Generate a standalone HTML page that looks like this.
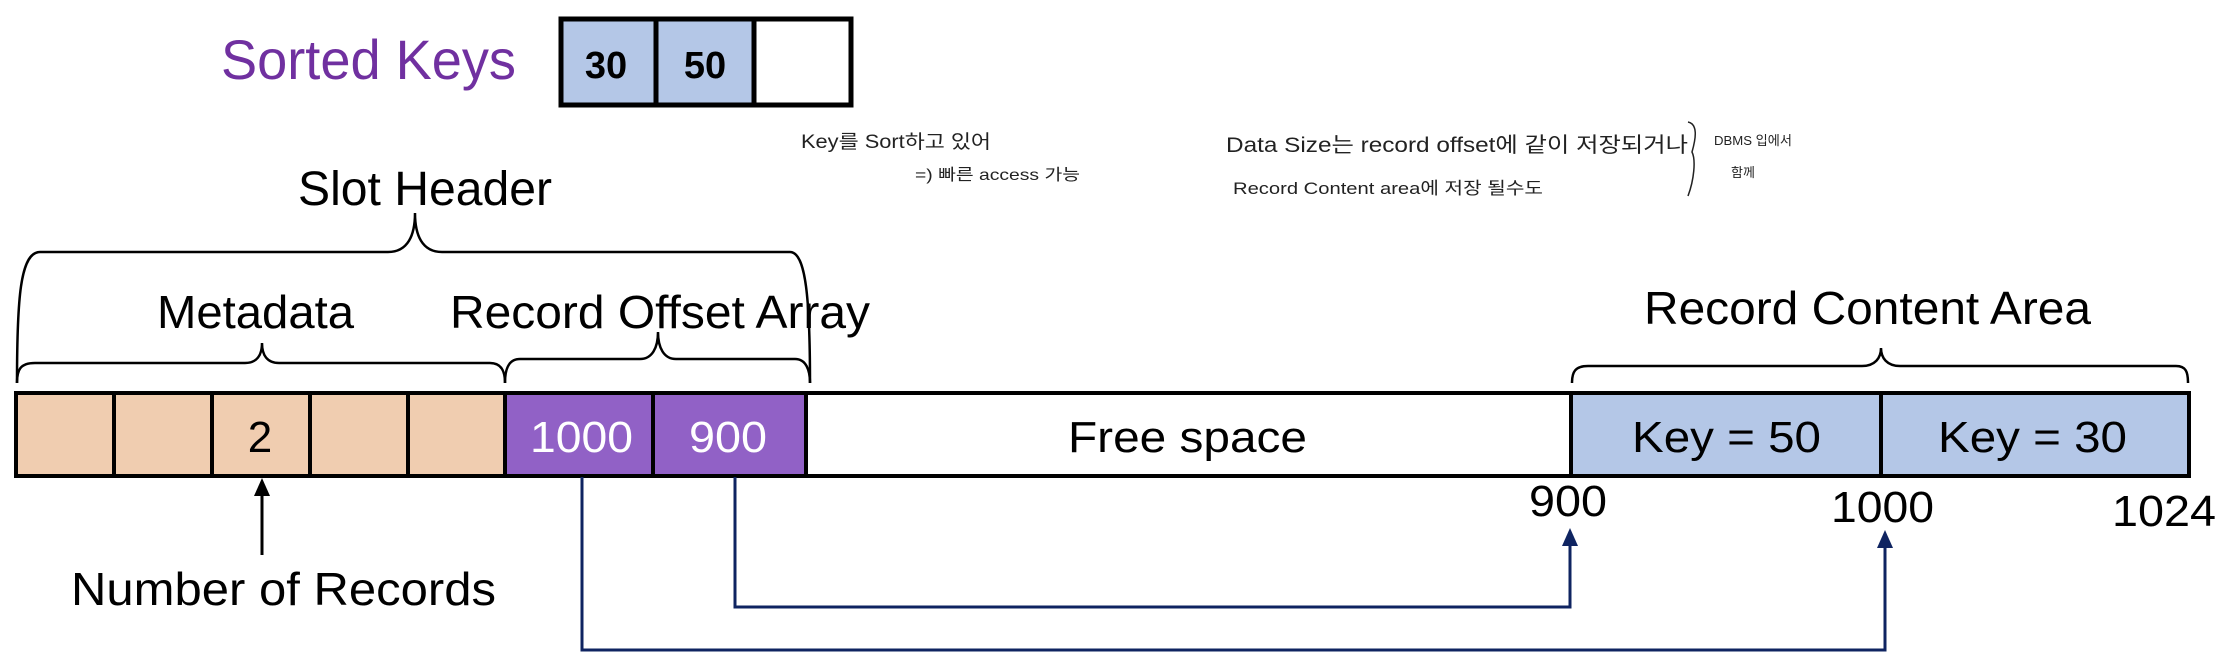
<!DOCTYPE html>
<html><head><meta charset="utf-8"><style>
html,body{margin:0;padding:0;background:#fff;width:2232px;height:668px;overflow:hidden}
svg{display:block}
text{font-family:"Liberation Sans","Noto Sans CJK KR",sans-serif}
</style></head><body>
<svg width="2232" height="668" viewBox="0 0 2232 668" xmlns="http://www.w3.org/2000/svg">
<!-- Sorted Keys -->
<text x="221" y="79" font-size="56" fill="#7030A0" textLength="295" lengthAdjust="spacingAndGlyphs">Sorted Keys</text>
<rect x="561" y="19" width="95" height="86" fill="#B4C7E7"/>
<rect x="656" y="19" width="98" height="86" fill="#B4C7E7"/>
<rect x="561" y="19" width="290" height="86" fill="none" stroke="#000" stroke-width="5"/>
<line x1="656" y1="19" x2="656" y2="105" stroke="#000" stroke-width="5"/>
<line x1="754" y1="19" x2="754" y2="105" stroke="#000" stroke-width="5"/>
<text x="606" y="78" font-size="38" font-weight="bold" text-anchor="middle">30</text>
<text x="705" y="78" font-size="38" font-weight="bold" text-anchor="middle">50</text>

<!-- handwritten notes -->
<g fill="#222" font-size="19">
<text x="801" y="148" textLength="190" lengthAdjust="spacingAndGlyphs">Key를  Sort하고 있어</text>
<text x="915" y="180" font-size="16" textLength="165" lengthAdjust="spacingAndGlyphs">=) 빠른 access 가능</text>
<text x="1226" y="152" font-size="21" textLength="462" lengthAdjust="spacingAndGlyphs">Data Size는  record offset에 같이 저장되거나</text>
<text x="1233" y="194" font-size="17" textLength="310" lengthAdjust="spacingAndGlyphs">Record Content area에 저장 될수도</text>
<text x="1714" y="145" font-size="13" textLength="78" lengthAdjust="spacingAndGlyphs">DBMS 입에서</text>
<text x="1731" y="177" font-size="13">함께</text>
</g>
<path d="M1688,122 C1698,124 1696,138 1692,152 C1696,160 1694,180 1688,196" fill="none" stroke="#222" stroke-width="1.5"/>

<!-- Slot header brace -->
<text x="298" y="205" font-size="48" textLength="254" lengthAdjust="spacingAndGlyphs">Slot Header</text>
<g fill="none" stroke="#000" stroke-width="2.5">
<path d="M17,383 C17,300 20,252 40,252 L388,252 C408,252 415,235 415,213 C415,235 422,252 442,252 L790,252 C806,252 810,300 810,383"/>
<path d="M17,383 C17,370 20,363 35,363 L245,363 C257,363 262,355 262,343 C262,355 267,363 279,363 L490,363 C502,363 505,372 505,383"/>
<path d="M505,383 C505,370 508,359 520,359 L640,359 C652,359 658,348 658,332 C658,348 664,359 676,359 L795,359 C806,359 810,370 810,383"/>
<path d="M1572,383 C1572,372 1575,366 1588,366 L1862,366 C1875,366 1881,358 1881,348 C1881,358 1887,366 1900,366 L2176,366 C2186,366 2188,372 2188,383"/>
</g>
<text x="157" y="328" font-size="46" textLength="197" lengthAdjust="spacingAndGlyphs">Metadata</text>
<text x="450" y="328" font-size="46" textLength="420" lengthAdjust="spacingAndGlyphs">Record Offset Array</text>
<text x="1644" y="324" font-size="46" textLength="447" lengthAdjust="spacingAndGlyphs">Record Content Area</text>

<!-- bar -->
<rect x="16" y="393" width="489" height="83" fill="#F0CDB0"/>
<rect x="505" y="393" width="301" height="83" fill="#9161C6"/>
<rect x="1571" y="393" width="618" height="83" fill="#B4C7E7"/>
<rect x="16" y="393" width="2173" height="83" fill="none" stroke="#000" stroke-width="4"/>
<g stroke="#000" stroke-width="4">
<line x1="114" y1="393" x2="114" y2="476"/>
<line x1="212" y1="393" x2="212" y2="476"/>
<line x1="310" y1="393" x2="310" y2="476"/>
<line x1="408" y1="393" x2="408" y2="476"/>
<line x1="505" y1="393" x2="505" y2="476"/>
<line x1="653" y1="393" x2="653" y2="476"/>
<line x1="806" y1="393" x2="806" y2="476"/>
<line x1="1571" y1="393" x2="1571" y2="476"/>
<line x1="1881" y1="393" x2="1881" y2="476"/>
</g>
<text x="260" y="452" font-size="44" text-anchor="middle">2</text>
<text x="530" y="452" font-size="44" fill="#fff" textLength="103" lengthAdjust="spacingAndGlyphs">1000</text>
<text x="689" y="452" font-size="44" fill="#fff" textLength="78" lengthAdjust="spacingAndGlyphs">900</text>
<text x="1068" y="452" font-size="44" textLength="239" lengthAdjust="spacingAndGlyphs">Free space</text>
<text x="1632" y="452" font-size="44" textLength="189" lengthAdjust="spacingAndGlyphs">Key = 50</text>
<text x="1938" y="452" font-size="44" textLength="189" lengthAdjust="spacingAndGlyphs">Key = 30</text>

<text x="1529" y="516" font-size="44" textLength="78" lengthAdjust="spacingAndGlyphs">900</text>
<text x="1831" y="522" font-size="44" textLength="103" lengthAdjust="spacingAndGlyphs">1000</text>
<text x="2112" y="526" font-size="44" textLength="104" lengthAdjust="spacingAndGlyphs">1024</text>

<!-- number of records arrow -->
<line x1="262" y1="555" x2="262" y2="492" stroke="#000" stroke-width="3"/>
<polygon points="262,478 254,496 270,496" fill="#000"/>
<text x="71" y="605" font-size="46" textLength="425" lengthAdjust="spacingAndGlyphs">Number of Records</text>

<!-- connectors -->
<g fill="none" stroke="#0F2461" stroke-width="3">
<polyline points="582,477 582,650 1885,650 1885,545"/>
<polyline points="735,477 735,607 1570,607 1570,545"/>
</g>
<polygon points="1885,530 1877,548 1893,548" fill="#0F2461"/>
<polygon points="1570,528 1562,546 1578,546" fill="#0F2461"/>
</svg>
</body></html>
